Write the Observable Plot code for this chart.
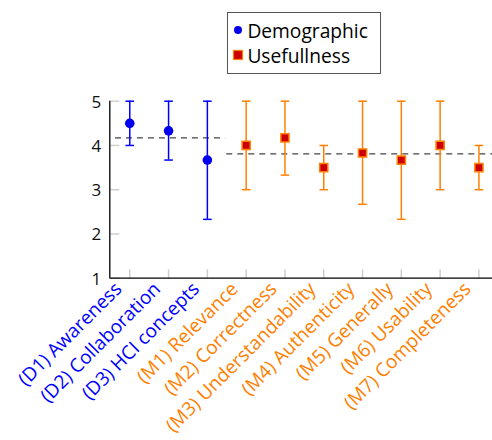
<!DOCTYPE html>
<html>
<head>
<meta charset="utf-8">
<script src="https://cdn.jsdelivr.net/npm/d3@7"></script>
<script src="https://cdn.jsdelivr.net/npm/@observablehq/plot@0.6"></script>
<style>
  html, body { margin: 0; padding: 0; background: #fff; }
  body { font-family: "Open Sans", sans-serif; width: 492px; height: 440px; overflow: hidden; }
  #legend { position: relative; width: 492px; height: 88px; }
  #legend .box { position: absolute; left: 227px; top: 12px; width: 154px; height: 62px;
    border: 1px solid #555; box-sizing: border-box; background: #fff; }
  #legend .item { position: absolute; left: 1.7px; height: 24px; display: flex; align-items: center;
    font-size: 19.2px; color: #000; white-space: nowrap; }
  #legend .item svg { margin-right: 1.7px; }
  #chart svg { display: block; }
</style>
</head>
<body>
<div id="legend"><div class="box"></div></div>
<div id="chart"></div>
<script>
// ---- data ----
const categories = ["(D1) Awareness", "(D2) Collaboration", "(D3) HCI concepts",
  "(M1) Relevance", "(M2) Correctness", "(M3) Understandability", "(M4) Authenticity",
  "(M5) Generally", "(M6) Usability", "(M7) Completeness"];
const groupOf = ["Demographic", "Demographic", "Demographic",
  "Usefullness", "Usefullness", "Usefullness", "Usefullness", "Usefullness", "Usefullness", "Usefullness"];
const means = [4.5, 4.33, 3.67, 4.0, 4.17, 3.5, 3.83, 3.67, 4.0, 3.5];
const lows  = [4.0, 3.67, 2.33, 3.0, 3.33, 3.0, 2.67, 2.33, 3.0, 3.0];
const highs = [5, 5, 5, 5, 5, 4, 5, 5, 5, 4];

const groups = ["Demographic", "Usefullness"];
const groupAverages = [4.17, 3.81];
const groupAvgFrom = [-0.37, 2.5];
const groupAvgTo = [2.47, 9.35];

const yTicks = [1, 2, 3, 4, 5];

// ---- styles ----
const lineColor = {Demographic: "#0000ff", Usefullness: "#ff8000"};
const labelColor = {Demographic: "#0000ff", Usefullness: "#ff8000"};
const markFill = {Demographic: "#0000ee", Usefullness: "#cc0000"};

const data = categories.map((name, i) => ({i, name, group: groupOf[i], mean: means[i], lo: lows[i], hi: highs[i]}));
const avgData = groups.map((g, k) => ({group: g, v: groupAverages[k], from: groupAvgFrom[k], to: groupAvgTo[k]}));

const hline = {draw(ctx, size) { const r = Math.sqrt(size / Math.PI); ctx.moveTo(-r, 0); ctx.lineTo(r, 0); }};
const vline = {draw(ctx, size) { const r = Math.sqrt(size / Math.PI); ctx.moveTo(0, -r); ctx.lineTo(0, r); }};

const xDomain = [-0.515, 9.35];
const yDomain = [1, 5];

const chart = Plot.plot({
  width: 492,
  height: 352,
  marginLeft: 109.3,
  marginRight: 0,
  marginTop: 12.7,
  marginBottom: 162.3,
  x: {domain: xDomain, axis: null},
  y: {domain: yDomain, axis: null},
  color: {type: "identity"},
  style: {fontFamily: "'Open Sans', sans-serif", background: "white", overflow: "visible"},
  marks: [
    // inner gray tick marks
    Plot.dot(yTicks, {y: d => d, frameAnchor: "left", dx: 5, symbol: hline, r: 4.5, fill: "none", stroke: "#cfcfcf", strokeWidth: 1.5}),
    Plot.dot(data, {x: "i", frameAnchor: "bottom", dy: -4.5, symbol: vline, r: 4.5, fill: "none", stroke: "#cfcfcf", strokeWidth: 1.5}),
    // y tick labels
    Plot.text(yTicks, {y: d => d, text: d => String(d), frameAnchor: "left", dx: -8.6, dy: 1, textAnchor: "end", fontSize: 17, fill: "#111"}),
    // x tick labels
    Plot.text(data, {x: "i", text: "name", frameAnchor: "bottom", rotate: -45, textAnchor: "end",
      dx: -7, dy: 12, fontSize: 19, fill: d => labelColor[d.group]}),
    // group average dashed lines
    Plot.ruleY(avgData, {y: "v", x1: "from", x2: "to", stroke: "#444", strokeWidth: 1.3, strokeDasharray: "6,5"}),
    // error bars
    Plot.ruleX(data, {x: "i", y1: "lo", y2: "hi", stroke: d => lineColor[d.group], strokeWidth: 1.5}),
    Plot.dot(data, {x: "i", y: "lo", symbol: hline, r: 4.3, fill: "none", stroke: d => lineColor[d.group], strokeWidth: 1.5}),
    Plot.dot(data, {x: "i", y: "hi", symbol: hline, r: 4.3, fill: "none", stroke: d => lineColor[d.group], strokeWidth: 1.5}),
    // means
    Plot.dot(data.filter(d => d.group === "Demographic"), {x: "i", y: "mean", r: 4.8, fill: markFill.Demographic}),
    Plot.dot(data.filter(d => d.group === "Usefullness"), {x: "i", y: "mean", symbol: "square", r: 4.6,
      fill: markFill.Usefullness, stroke: "#ff8000", strokeWidth: 1.5}),
    // axis lines
    Plot.ruleX([xDomain[0]], {stroke: "#000", strokeWidth: 1.3}),
    Plot.ruleY([yDomain[0]], {stroke: "#000", strokeWidth: 1.3})
  ]
});
document.getElementById("chart").appendChild(chart);

// legend
const box = d3.select("#legend .box");
groups.forEach((g, k) => {
  const item = box.append("div").attr("class", "item").style("top", (k === 0 ? 5 : 30.3) + "px");
  const svg = item.append("svg").attr("width", 16).attr("height", 16);
  if (g === "Demographic") {
    svg.append("circle").attr("cx", 8).attr("cy", 8).attr("r", 4).attr("fill", markFill.Demographic);
  } else {
    svg.append("rect").attr("x", 3.5).attr("y", 3.5).attr("width", 9).attr("height", 9)
      .attr("fill", markFill.Usefullness).attr("stroke", "#ff8000").attr("stroke-width", 1.2);
  }
  item.append("span").text(g);
});
</script>
</body>
</html>
